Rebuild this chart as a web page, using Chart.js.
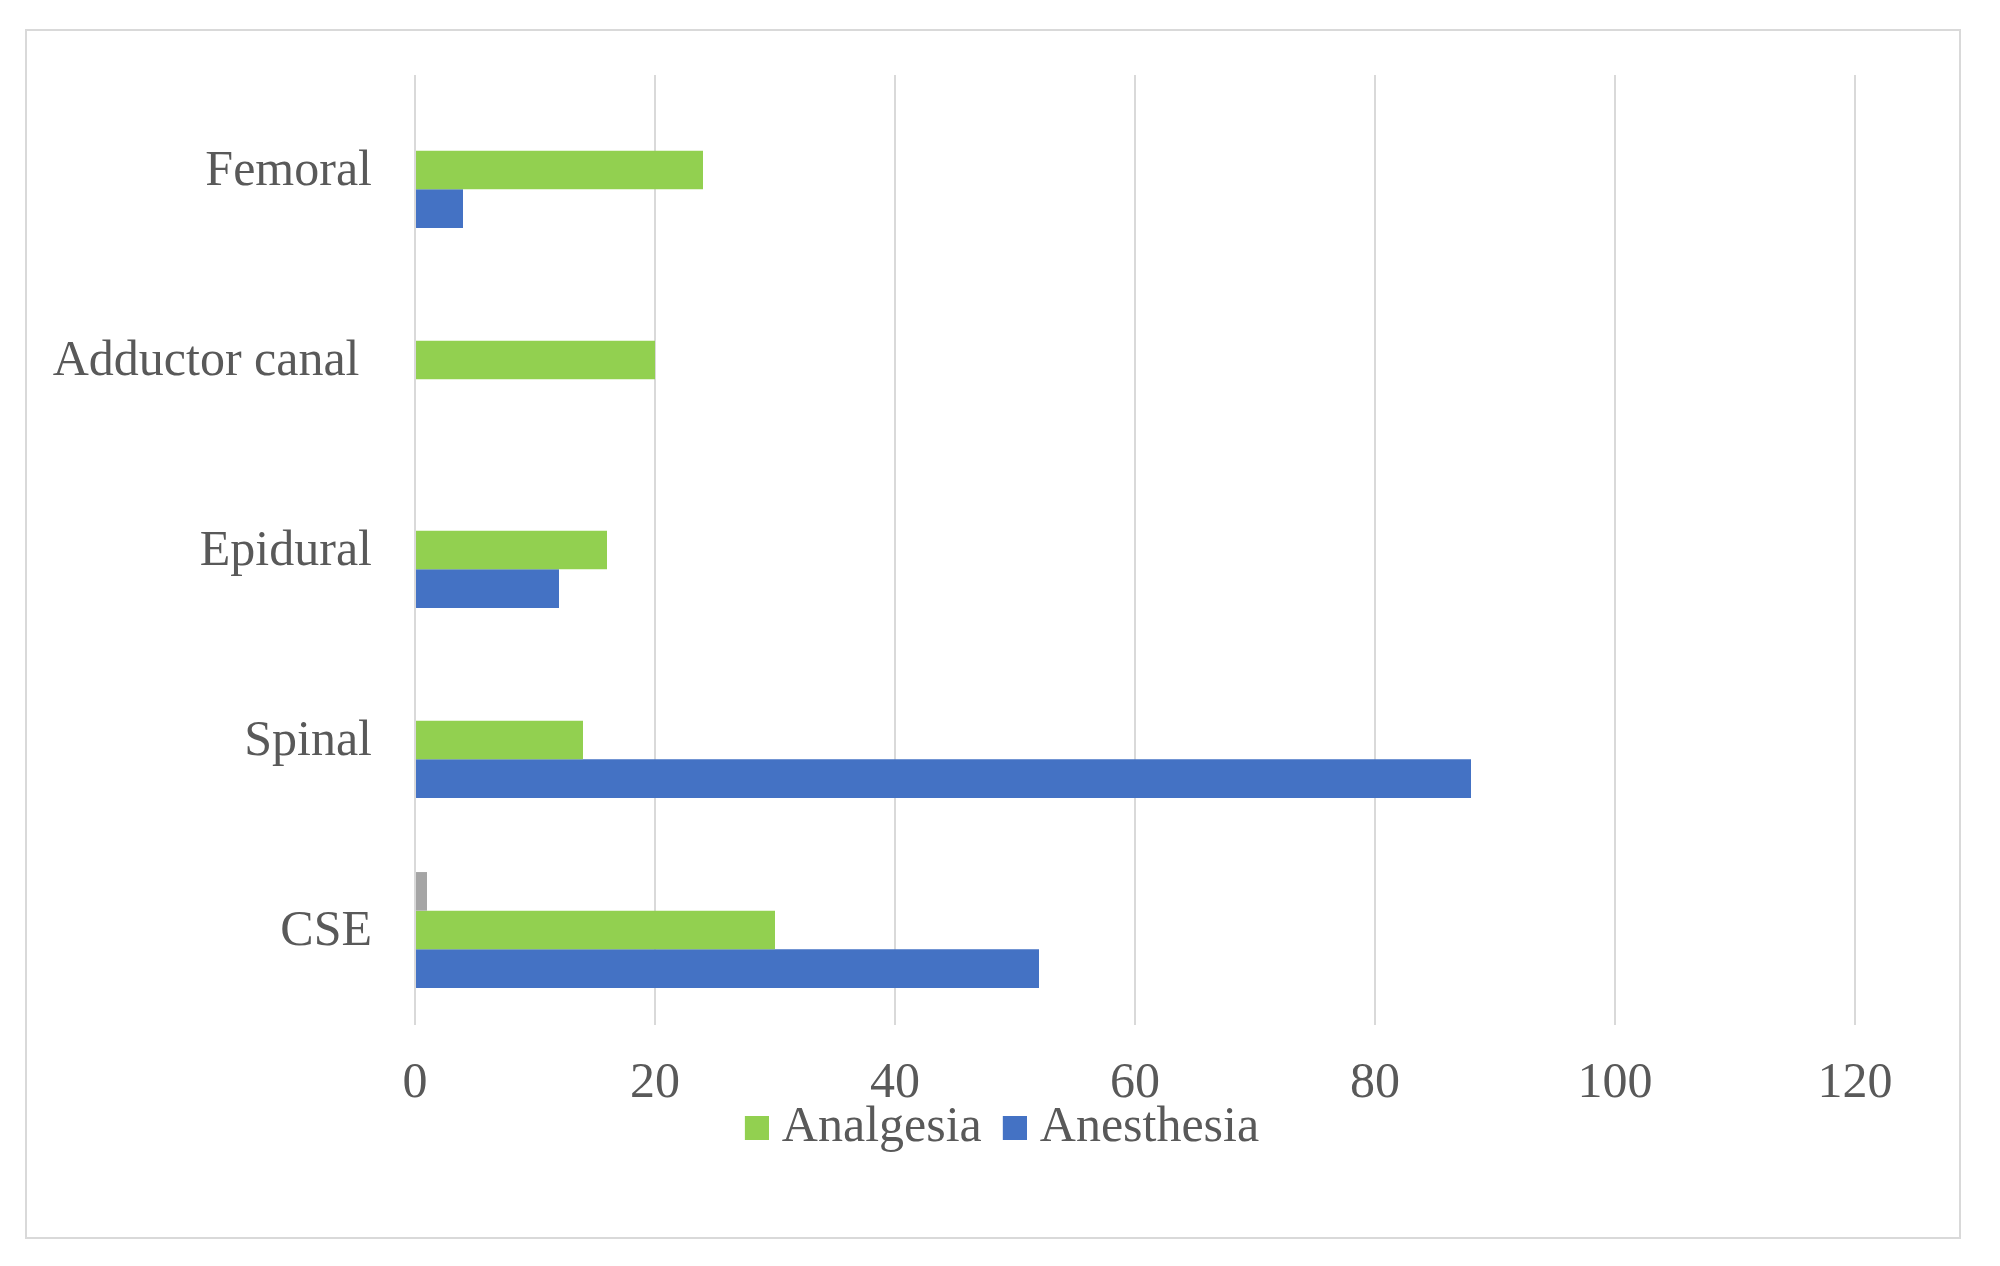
<!DOCTYPE html>
<html>
<head>
<meta charset="utf-8">
<script src="https://cdn.jsdelivr.net/npm/chart.js@4/dist/chart.umd.min.js"></script>
<style>
  html, body { margin: 0; padding: 0; background: #ffffff; }
  #wrap { position: relative; width: 2000px; height: 1266px; }
</style>
</head>
<body>
<div id="wrap"><canvas id="c"></canvas></div>
<script>
const categories = ["Femoral", "Adductor canal ", "Epidural", "Spinal", "CSE"];
const seriesNames = ["Series3", "Analgesia", "Anesthesia"];
const series3Values = [null, null, null, null, 1];
const analgesiaValues = [24, 20, 16, 14, 30];
const anesthesiaValues = [4, 0, 12, 88, 52];
const xTicks = [0, 20, 40, 60, 80, 100, 120];

const FONT = "'Liberation Serif', 'Times New Roman', serif";
const TEXT = "#595959";
const COLORS = ['#a5a5a5', '#92d050', '#4472c4'];

// legend swatch: a 24px square drawn in the right half of a 48px-wide image,
// so the text sits closer to the swatch (as in the original)
function swatch(color) {
  const c = document.createElement('canvas');
  c.width = 48; c.height = 24;
  const g = c.getContext('2d');
  g.fillStyle = color;
  g.fillRect(24, 0, 24, 24);
  return c;
}

const frame = {
  id: 'frame',
  beforeDraw(chart) {
    const ctx = chart.ctx;
    ctx.save();
    ctx.fillStyle = '#ffffff';
    ctx.fillRect(0, 0, chart.width, chart.height);
    ctx.strokeStyle = '#d9d9d9';
    ctx.lineWidth = 2;
    ctx.strokeRect(26, 30, 1934, 1208);
    ctx.restore();
  }
};

const legendPlace = {
  id: 'legendPlace',
  afterLayout(chart) {
    const lg = chart.legend;
    if (!lg) return;
    const h = lg.height;
    lg.top = 1094;
    lg.bottom = 1094 + h;
    lg.left = 40;
    lg.right = 1952;
  }
};

new Chart(document.getElementById('c'), {
  type: 'bar',
  data: {
    labels: categories,
    datasets: [
      { label: seriesNames[0], data: series3Values, backgroundColor: COLORS[0], pointStyle: swatch(COLORS[0]) },
      { label: seriesNames[1], data: analgesiaValues, backgroundColor: COLORS[1], pointStyle: swatch(COLORS[1]) },
      { label: seriesNames[2], data: anesthesiaValues, backgroundColor: COLORS[2], pointStyle: swatch(COLORS[2]) }
    ]
  },
  options: {
    indexAxis: 'y',
    responsive: true,
    maintainAspectRatio: false,
    devicePixelRatio: 1,
    animation: false,
    layout: { padding: { left: 26, right: 145, top: 75, bottom: 78 } },
    datasets: { bar: { categoryPercentage: 0.61, barPercentage: 1.0 } },
    scales: {
      x: {
        min: 0, max: 120,
        afterBuildTicks(scale) { scale.ticks = xTicks.map(v => ({ value: v })); },
        afterFit(scale) { scale.height = 94; },
        grid: { color: '#d9d9d9', lineWidth: 2, drawTicks: false },
        border: { display: false },
        ticks: { padding: 29, color: TEXT, font: { family: FONT, size: 50 } }
      },
      y: {
        afterFit(scale) { scale.width = 389; },
        grid: { display: false, drawTicks: false },
        border: { display: false },
        ticks: { padding: 43, labelOffset: 2, color: TEXT, font: { family: FONT, size: 50 } }
      }
    },
    plugins: {
      tooltip: { enabled: false },
      legend: {
        position: 'bottom',
        maxHeight: 70,
        labels: {
          filter: (item) => item.text !== seriesNames[0],
          usePointStyle: true,
          pointStyleWidth: 24,
          boxWidth: 24, boxHeight: 24, padding: 9,
          color: TEXT, font: { family: FONT, size: 50 }
        }
      }
    }
  },
  plugins: [frame, legendPlace]
});
</script>
</body>
</html>
